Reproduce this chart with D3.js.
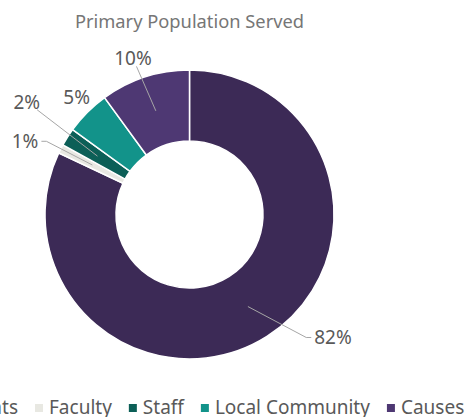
<!DOCTYPE html>
<html>
<head>
<meta charset="utf-8">
<script src="https://cdn.jsdelivr.net/npm/d3@7"></script>
<style>
  body { margin: 0; background: #fff; }
  svg { display: block; font-family: "Noto Sans", sans-serif; }
</style>
</head>
<body>
<div id="chart"></div>
<script>
const width = 470;
const height = 417;

const categories = ["Students", "Faculty", "Staff", "Local Community", "Causes"];
const values = [82, 1, 2, 5, 10];
const colors = ["#3c2a56", "#e8e8e2", "#0c5f57", "#12938a", "#4e3873"];
const title = "Primary Population Served";

// label placement: angle nudge (deg) off the slice middle, radius from centre
const labelLayout = [
  { da: -17, r: 189, leader: true },
  { da: -3, r: 180, leader: true },
  { da: 2.3, r: 198, leader: true },
  { da: 1.2, r: 163, leader: false },
  { da: -1.9, r: 166, leader: true }
];

const cx = 189.5;
const cy = 214.5;
const outerR = 144.5;
const innerR = 73.5;

const svg = d3
  .select("#chart")
  .append("svg")
  .attr("width", width)
  .attr("height", height);

svg
  .append("text")
  .attr("x", cx)
  .attr("y", 28)
  .attr("text-anchor", "middle")
  .style("font-size", "18.3px")
  .style("fill", "#767676")
  .text(title);

const pie = d3.pie().sort(null).value(d => d);
const arcs = pie(values);

const arc = d3.arc().innerRadius(innerR).outerRadius(outerR);

const g = svg.append("g").attr("transform", `translate(${cx},${cy})`);

g.selectAll("path.slice")
  .data(arcs)
  .enter()
  .append("path")
  .attr("class", "slice")
  .attr("d", arc)
  .attr("fill", (d, i) => colors[i])
  .attr("stroke", "#fff")
  .attr("stroke-width", 1.5);

const polar = (a, r) => [r * Math.sin(a), -r * Math.cos(a)];
const toRad = deg => (deg * Math.PI) / 180;

const labels = g.append("g");
const leaders = g.append("g");

arcs.forEach((d, i) => {
  const mid = (d.startAngle + d.endAngle) / 2;
  const lay = labelLayout[i];
  const [lx, ly] = polar(mid + toRad(lay.da), lay.r);
  const t = labels
    .append("text")
    .attr("x", lx)
    .attr("y", ly)
    .attr("text-anchor", "middle")
    .attr("dominant-baseline", "central")
    .style("font-size", "19px")
    .style("fill", "#595959")
    .text(`${values[i]}%`);

  if (!lay.leader) return;

  const box = t.node().getBBox();
  const hw = box.width / 2 + 3;
  const hh = 8;
  const [ex, ey] = polar(mid, (innerR + outerR) / 2);
  const dx = ex - lx;
  const dy = ey - ly;
  const s = Math.min(Math.abs(hw / dx) || Infinity, Math.abs(hh / dy) || Infinity);
  let sx = lx + dx * s;
  let sy = ly + dy * s;
  const pts = [];
  if (Math.abs(hw / dx) <= Math.abs(hh / dy)) {
    // exits through a side: short horizontal stub first
    sy = ly;
    pts.push([sx, sy], [sx + Math.sign(dx) * 5, sy]);
  } else {
    pts.push([sx, sy]);
  }
  pts.push([ex, ey]);

  leaders
    .append("path")
    .attr("d", d3.line()(pts))
    .attr("fill", "none")
    .attr("stroke", "#a6a6a6")
    .attr("stroke-width", 1);
});

// legend, laid out from the Faculty entry; the first one runs off the left edge
const legend = svg.append("g").attr("transform", "translate(0,407)");
const items = categories.map((c, i) => {
  const it = legend.append("g");
  it.append("rect")
    .attr("y", -3)
    .attr("width", 8)
    .attr("height", 8)
    .attr("fill", colors[i]);
  const tx = it
    .append("text")
    .attr("x", 14)
    .attr("dominant-baseline", "central")
    .style("font-size", "19px")
    .style("fill", "#595959")
    .text(c);
  return { it, w: 14 + tx.node().getComputedTextLength() };
});

const gap = 17;
let x = 35;
for (let i = 1; i < items.length; i++) {
  items[i].it.attr("transform", `translate(${x},0)`);
  x += items[i].w + gap;
}
items[0].it.attr("transform", `translate(${35 - gap - items[0].w},0)`);
</script>
</body>
</html>
